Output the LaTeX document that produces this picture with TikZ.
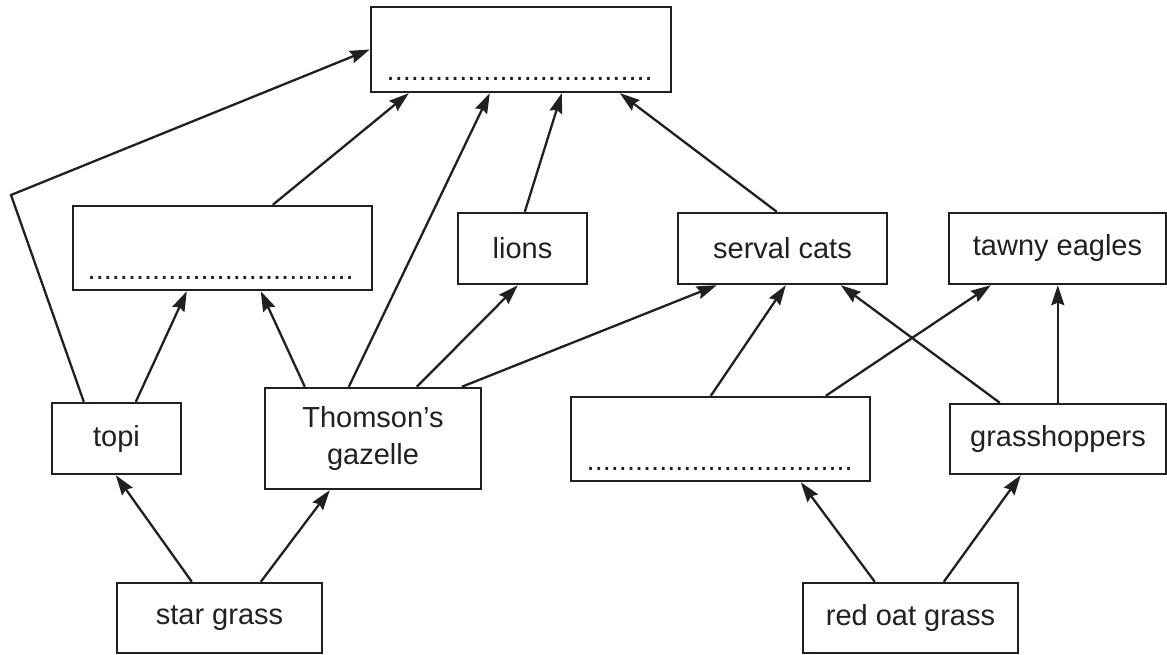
\documentclass[tikz,border=0pt]{standalone}
\usepackage{fontspec}
\setmainfont{Liberation Sans}
\usetikzlibrary{arrows.meta,calc}
\definecolor{ink}{HTML}{231F20}
\begin{document}
\begin{tikzpicture}[x=1pt,y=-1pt,
  box/.style={draw=ink, text=ink, line width=2.4pt, rectangle, inner sep=0pt, align=center,
              font=\fontsize{29}{37}\selectfont},
  conn/.style={line width=2.3pt, draw=ink, -{Stealth[length=20pt,width=13pt,inset=2.5pt]}},
  dotline/.style={anchor=base west, inner sep=0pt, text=ink, font=\fontsize{29}{37}\selectfont}]
\useasboundingbox (0,0) rectangle (1167,655);

% boxes
\node[box, minimum width=300pt, minimum height=85pt] (top) at (521,49.5) {};
\node[box, minimum width=299pt, minimum height=84pt] (leftmid) at (222.5,248) {};
\node[box, minimum width=129pt, minimum height=71pt] (lions) at (522.5,248.5) {lions};
\node[box, minimum width=209pt, minimum height=71pt] (serval) at (782.5,248.5) {serval cats};
\node[box, minimum width=217pt, minimum height=71pt] (tawny) at (1057.5,248.5) {tawny eagles};
\node[box, minimum width=129pt, minimum height=71pt] (topi) at (116.5,438.5) {topi};
\node[box, minimum width=216pt, minimum height=101pt] (thomson) at (373,438.5) {Thomson’s\\gazelle};
\node[box, minimum width=299pt, minimum height=84pt] (blank) at (720.5,439) {};
\node[box, minimum width=216pt, minimum height=70pt] (grass) at (1058,439) {grasshoppers};
\node[box, minimum width=205pt, minimum height=70pt] (star) at (219.5,618) {star grass};
\node[box, minimum width=215pt, minimum height=70pt] (redoat) at (910.5,618) {red oat grass};

% answer lines
\node[dotline] (dtop) at (386.5,81) {.................................};
\node[dotline] (dleft) at (87.5,279.5) {.................................};
\node[dotline] (dblank) at (586.5,470) {.................................};

\coordinate (kink) at (11,195);

% connectors
\draw[conn] ($(topi.north west)+(33,0)$) -- (kink) -- (top.west);
\draw[conn] ($(topi.north west)+(85,0)$) -- ($(leftmid.south west)+(115,0)$);
\draw[conn] ($(thomson.north west)+(41,0)$) -- ($(leftmid.south west)+(189,0)$);
\draw[conn] ($(thomson.north west)+(85,0)$) -- ($(top.south west)+(120,0)$);
\draw[conn] ($(thomson.north west)+(153,0)$) -- ($(lions.south west)+(61,0)$);
\draw[conn] ($(thomson.north west)+(198,0)$) -- ($(serval.south west)+(40,0)$);
\draw[conn] ($(leftmid.north west)+(201,0)$) -- ($(top.south west)+(39,0)$);
\draw[conn] ($(lions.north west)+(68,0)$) -- ($(top.south west)+(192,0)$);
\draw[conn] ($(serval.north west)+(100,0)$) -- ($(top.south west)+(250,0)$);
\draw[conn] ($(blank.north west)+(141,0)$) -- ($(serval.south west)+(109,0)$);
\draw[conn] ($(blank.north west)+(256,0)$) -- ($(tawny.south west)+(43,0)$);
\draw[conn] ($(grass.north west)+(51,0)$) -- ($(serval.south west)+(164,0)$);
\draw[conn] ($(grass.north west)+(109,0)$) -- ($(tawny.south west)+(110,0)$);
\draw[conn] ($(star.north west)+(76,0)$) -- ($(topi.south west)+(65,0)$);
\draw[conn] ($(star.north west)+(145,0)$) -- ($(thomson.south west)+(66,0)$);
\draw[conn] ($(redoat.north west)+(73,0)$) -- ($(blank.south west)+(231,0)$);
\draw[conn] ($(redoat.north west)+(142,0)$) -- ($(grass.south west)+(72,0)$);
\end{tikzpicture}
\end{document}
